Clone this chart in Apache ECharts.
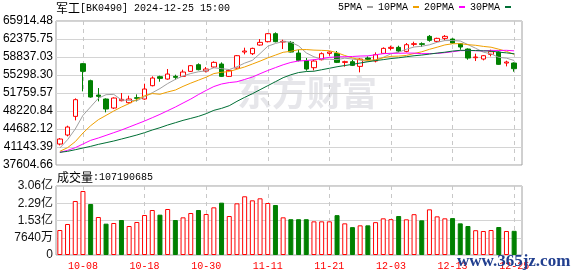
<!DOCTYPE html>
<html><head><meta charset="utf-8">
<script src="https://cdn.jsdelivr.net/npm/echarts@6/dist/echarts.min.js"></script>
<style>html,body{margin:0;padding:0;background:#fff}#c{width:578px;height:276px}</style>
</head><body><div id="c"></div>
<script>
// ---------- data ----------
const dates = ['09-26','09-27','09-30','10-08','10-09','10-10','10-11','10-14','10-15','10-16','10-17','10-18','10-21','10-22','10-23','10-24','10-25','10-28','10-29','10-30','10-31','11-01','11-04','11-05','11-06','11-07','11-08','11-11','11-12','11-13','11-14','11-15','11-18','11-19','11-20','11-21','11-22','11-25','11-26','11-27','11-28','11-29','12-02','12-03','12-04','12-05','12-06','12-09','12-10','12-11','12-12','12-13','12-16','12-17','12-18','12-19','12-20','12-23','12-24','12-25'];
const opens  = [41727,43497,47166,57520,54178,51360,50574,48805,50246,49853,50836,50574,53195,54964,54506,55030,55030,56013,57324,56078,56865,57455,55030,56668,59814,59486,61190,61845,63418,61780,61714,59617,58110,56734,58306,59551,59551,57783,57914,56996,58634,58044,59551,60534,60731,59945,61321,61452,62894,61910,62500,62369,61452,60403,58699,58437,59355,59814,57651,57651];
const closes = [42710,45069,50443,56013,50967,51098,48608,50770,50508,50574,50705,52540,54702,54637,55488,54833,55882,57127,56340,56472,57783,55030,56209,59093,60010,60534,61714,63418,61845,61911,59814,58175,56472,58044,59486,59814,57783,57914,57192,58437,58372,59289,60534,60731,60010,61255,61452,61321,62107,62500,62894,61583,60797,58634,58831,59093,59879,57389,57848,56537];
const lows   = [41465,43235,46380,52081,50836,50115,47953,48608,50115,49656,50115,50443,53064,53981,54375,54375,54899,55882,56209,55816,56668,54899,54899,56537,59355,59224,61059,61714,61714,60403,59748,57979,56144,56209,58175,59093,57651,56930,57061,55816,58175,57783,59420,60141,59748,59748,60928,60797,61845,61714,62107,61452,60272,58306,58044,58175,58962,57300,56996,55947];
const highs  = [42907,45331,50705,57651,54375,52736,50705,50901,51753,51229,51491,53588,55030,55161,56472,55357,56340,57258,57586,56865,57979,57783,56472,59224,60666,60666,62369,63549,63680,62238,61976,60272,58634,58306,59748,59945,60010,58110,58306,58568,58962,59748,60731,61059,61059,61583,61845,61714,63156,62631,63156,62500,61583,60534,59486,59224,60272,59945,58110,57783];
const volumes = [110700000,137300000,239200000,283500000,225900000,168300000,138800000,141700000,155000000,128400000,146200000,177200000,199300000,178600000,203700000,155000000,166800000,186000000,199300000,181600000,211100000,231800000,172700000,228800000,260000000,242100000,251000000,230300000,221400000,166800000,158500000,158500000,158500000,149000000,149000000,149000000,176500000,140200000,123500000,131400000,131400000,145500000,162400000,158700000,172700000,158000000,180800000,153500000,202200000,171200000,162400000,163500000,140200000,128400000,109800000,106300000,110700000,124000000,106300000,107190685];
const ma5  = [40940,42580,44680,47360,49040,50720,51430,51490,50390,50310,50230,51020,51810,52630,53610,54440,55110,55590,55930,56130,56720,56550,56370,56920,57630,58180,59510,60950,61500,61880,61740,61030,59640,58880,58400,58400,58320,58610,58440,58230,57940,58240,58770,59470,59790,60360,60800,60950,61230,61730,62060,62080,61980,61280,60550,59790,59450,58770,58610,58150];
const ma10 = [40290,41010,42190,43890,45330,46510,47360,48220,49000,49680,50480,51220,51650,51510,51960,52340,53060,53700,54280,54870,55580,55830,55980,56430,56880,57450,58030,58660,59210,59760,59960,60270,60300,60190,60140,60070,59680,59130,58660,58310,58170,58280,58690,58960,59010,59150,59520,59860,60350,60760,61210,61440,61470,61260,61140,60920,60760,60370,59950,59350];
const ma20 = [40090,40480,41010,41730,42450,42910,43430,43960,44480,45070,45660,46250,46900,47560,48280,49000,49790,50570,51450,52270,53030,53530,53810,53970,54420,54890,55550,56180,56750,57310,57770,58050,58140,58310,58510,58760,58850,58890,58940,59030,59060,59280,59490,59570,59570,59610,59600,59490,59510,59540,59690,59860,60080,60110,60070,60040,60140,60120,60150,60050];
const ma30 = [40090,40290,40610,40940,41270,41660,41990,42320,42710,43100,43500,43960,44480,44940,45460,45920,46380,46770,47170,47690,48350,48740,49260,50120,50900,51620,52410,53200,53980,54770,55340,55780,55980,56040,56330,56620,56920,57160,57390,57650,57900,58130,58320,58530,58680,58890,59080,59220,59410,59610,59780,60000,60150,60140,60100,60050,59990,59790,59650,59470];
const priceTicks = ['37604.66','41143.39','44682.12','48220.84','51759.57','55298.30','58837.03','62375.75','65914.48'];
const volTicks = ['0','7640万','1.53亿','2.29亿','3.06亿'];
const priceMin = 37604.66, priceMax = 65914.48, volMax = 305600000;
const maNames = ['5PMA','10PMA','20PMA','30PMA'];
const titleCode = '[BK0490] 2024-12-25 15:00', titleName = '军工';

// ---------- chart ----------
const chart = echarts.init(document.getElementById('c'), null, {renderer:'canvas'});
const L = 56, FW = 466, DW = 462;
const labelInt = (idx) => (idx - 3) % 8 === 0;
const vGrid = {show:true, interval:labelInt, alignWithLabel:true, lineStyle:{color:'#c8c8c8', type:[4,4], width:1}};
const baseGrid = {containLabel:false, outerBoundsMode:'none', backgroundColor:'transparent'};
const monoFont = "'Liberation Mono', 'Noto Sans CJK SC', monospace";
const sansFont = "'Liberation Sans', 'Noto Sans CJK SC', sans-serif";

const maColors = ['#a0a0a0','#f0a000','#ff00ff','#006f35'];
const maData = [ma5, ma10, ma20, ma30];

const volData = volumes.map((v,i) => {
  const up = i === 0 ? closes[0] >= opens[0] : closes[i] >= closes[i-1];
  return {value: v, itemStyle: up ? {color:'#ffffff', borderColor:'#ff0000', borderWidth:1} : {color:'#008000', borderColor:'#008000', borderWidth:1}};
});

const option = {
  animation:false,
  backgroundColor:'#ffffff',
  grid:[
    Object.assign({left:L, top:21, width:FW, height:144, show:true, borderColor:'#a0a0a0', borderWidth:1}, baseGrid),
    Object.assign({left:L, top:21, width:DW, height:144, show:false}, baseGrid),
    Object.assign({left:L, top:186, width:FW, height:69, show:true, borderColor:'#a0a0a0', borderWidth:1}, baseGrid),
    Object.assign({left:L, top:186, width:DW, height:69, show:false}, baseGrid)
  ],
  xAxis:[
    {type:'value', gridIndex:0, min:0, max:1, show:false},
    {type:'category', gridIndex:1, data:dates, boundaryGap:true, axisLine:{show:false}, axisTick:{show:false}, axisLabel:{show:false}, splitLine:vGrid},
    {type:'value', gridIndex:2, min:0, max:1, show:false},
    {type:'category', gridIndex:3, data:dates, boundaryGap:true, axisLine:{show:false}, axisTick:{show:false},
      axisLabel:{interval:labelInt, color:'#ff0000', fontFamily:monoFont, fontSize:10, margin:6}, splitLine:vGrid}
  ],
  yAxis:[
    {type:'value', gridIndex:0, min:0, max:priceTicks.length-1, interval:1, axisLine:{show:false}, axisTick:{show:false},
      axisLabel:{formatter:(v)=>priceTicks[Math.round(v)], color:'#000', fontFamily:sansFont, fontSize:12, margin:3},
      splitLine:{lineStyle:{color:'#d4d4d4', width:1}}},
    {type:'value', gridIndex:1, min:priceMin, max:priceMax, show:false, splitLine:{show:false}},
    {type:'value', gridIndex:2, min:0, max:volTicks.length-1, interval:1, axisLine:{show:false}, axisTick:{show:false},
      axisLabel:{formatter:(v)=>volTicks[Math.round(v)], color:'#111', fontFamily:sansFont, fontSize:12, margin:3},
      splitLine:{lineStyle:{color:'#d4d4d4', width:1}}},
    {type:'value', gridIndex:3, min:0, max:volMax, show:false, splitLine:{show:false}}
  ],
  legend:{data:maNames, left:338, top:2, align:'right', icon:'rect', itemWidth:6, itemHeight:2, itemGap:5, padding:0,
    selectedMode:false, textStyle:{fontFamily:monoFont, fontSize:10, color:'#000'}},
  series:[
    {type:'candlestick', xAxisIndex:1, yAxisIndex:1, barWidth:5,
      data: opens.map((o,i)=>[o, closes[i], lows[i], highs[i]]),
      itemStyle:{color:'#ffffff', color0:'#008000', borderColor:'#ff0000', borderColor0:'#008000', borderWidth:1}},
    ...maNames.map((n,k)=>({type:'line', name:n, xAxisIndex:1, yAxisIndex:1, data:maData[k], symbol:'none', silent:true,
      lineStyle:{width:1, color:maColors[k]}, itemStyle:{color:maColors[k]}, z:3})),
    {type:'bar', xAxisIndex:3, yAxisIndex:3, barWidth:5, data:volData}
  ],
  graphic:[
    {type:'text', z:-1, style:{x:237, y:93, text:'东方财富', fill:'#e6e6ea', font:"bold 35px 'Noto Sans CJK SC'", verticalAlign:'middle'}},
    {type:'text', style:{x:56, y:8, text:'{c|'+titleName+'}{a|'+titleCode+'}', verticalAlign:'middle',
      rich:{c:{fontFamily:'Noto Sans CJK SC', fontSize:12, fill:'#000'}, a:{fontFamily:monoFont, fontSize:10, fill:'#000'}}}},
    {type:'text', style:{x:57, y:177, text:'{c|成交量}{a|:'+volumes[volumes.length-1]+'}', verticalAlign:'middle',
      rich:{c:{fontFamily:'Noto Sans CJK SC', fontSize:12, fill:'#000'}, a:{fontFamily:monoFont, fontSize:10, fill:'#000'}}}},
    {type:'text', z:100, style:{x:457, y:262, text:'www.365jz.com', fill:'#213f8f', font:"bold 17px 'Liberation Serif'", verticalAlign:'middle'}}
  ]
};
chart.setOption(option);
</script>
</body></html>
